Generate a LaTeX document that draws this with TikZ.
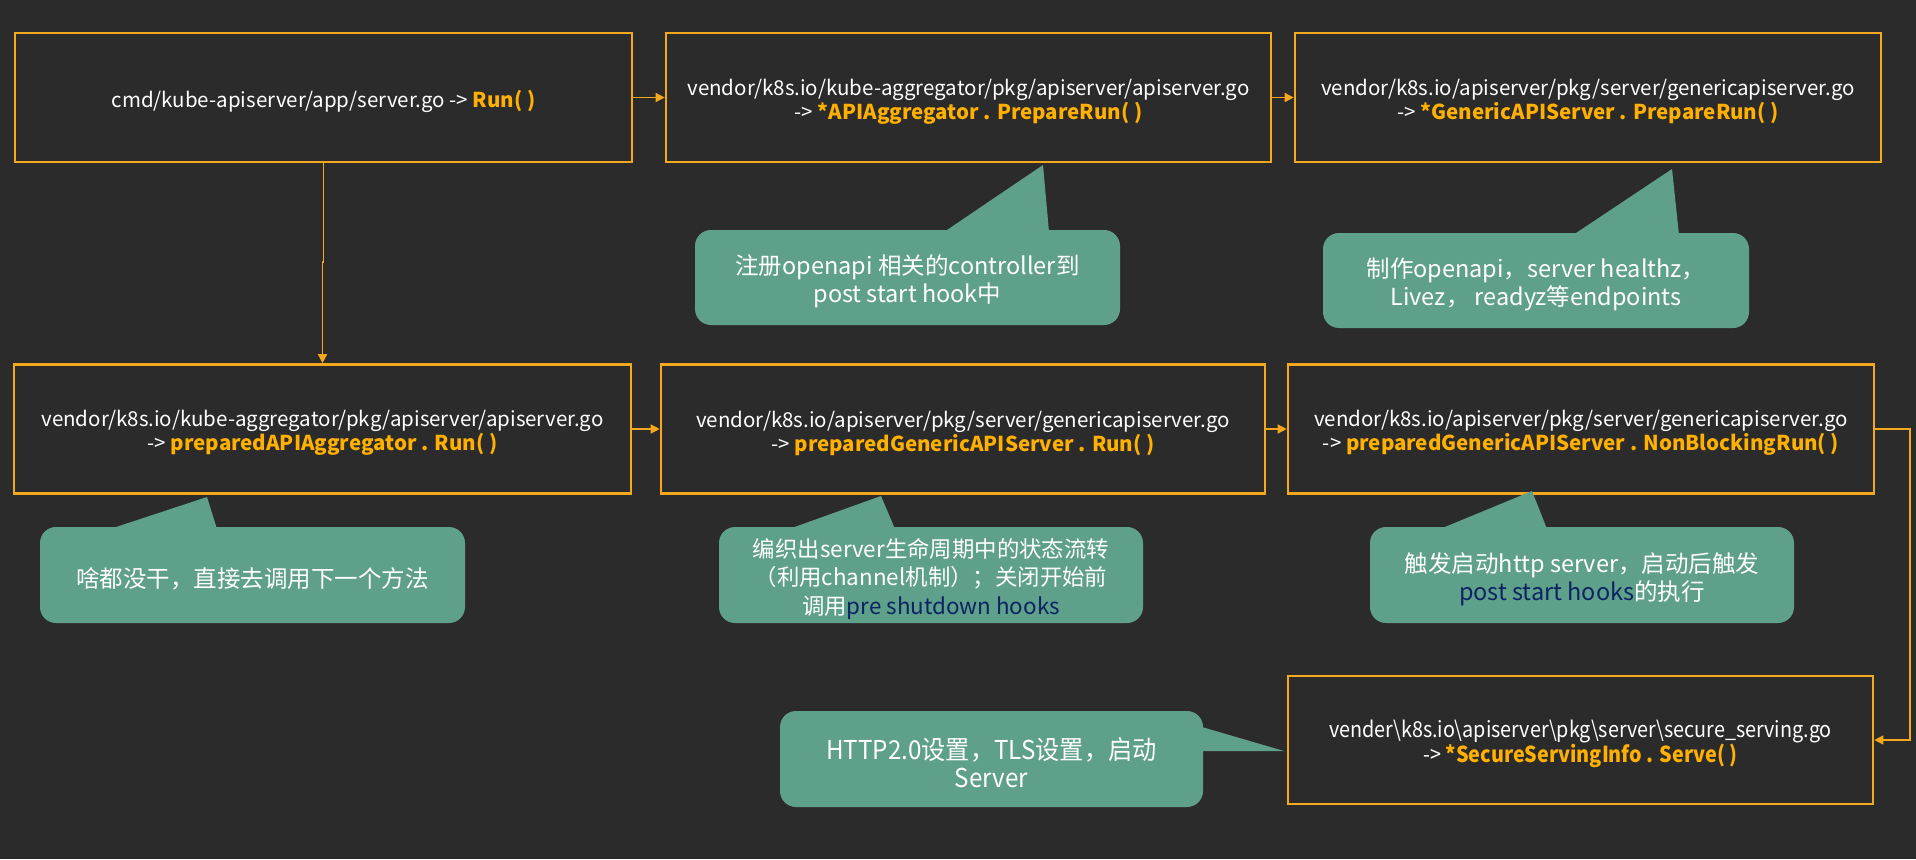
\documentclass[tikz,border=0pt]{standalone}
\usepackage{fontspec}
\setmainfont{Noto Sans CJK SC}
\newfontfamily\condfont[FakeStretch=0.9]{Noto Sans CJK SC}
\newfontfamily\condfontb[FakeStretch=0.93]{Noto Sans CJK SC}
\usetikzlibrary{arrows.meta,calc}
\definecolor{bgc}{HTML}{2C2B2C}
\definecolor{boxorange}{HTML}{F4A81D}
\definecolor{fnyellow}{HTML}{FFB000}
\definecolor{bubteal}{HTML}{5FA08A}
\definecolor{dblue}{HTML}{0A2463}
\newcommand\fnc[1]{{\bfseries\color{fnyellow}#1}}
\begin{document}
\begin{tikzpicture}[x=1pt,y=-1pt,
  box/.style={draw=boxorange, line width=2.6pt, inner sep=0pt},
  btext/.style={align=center, text=white, inner sep=0pt, yshift=-4pt,
    font=\fontsize{20.5}{24}\selectfont},
  bubble/.style={fill=bubteal, rounded corners=16pt, inner sep=0pt},
  ctext/.style={align=center, text=white, inner sep=0pt, yshift=-4pt,
    font=\fontsize{23.5}{28.3}\selectfont},
  conn/.style={draw=boxorange, line width=1.4pt, -{Triangle[length=9pt,width=9pt]}},
  tail/.style={fill=bubteal}]
\fill[bgc] (0,0) rectangle (1916,859);
% boxes
\node[box, minimum width=617, minimum height=129,
  label={[btext]center:{cmd/kube-apiserver/app/server.go -> \fnc{Run( )}}}] (B1) at (323.5,97.5) {};
\node[box, minimum width=605, minimum height=129,
  label={[btext]center:{vendor/k8s.io/kube-aggregator/pkg/apiserver/apiserver.go\\-> \fnc{*APIAggregator . PrepareRun( )}}}] (B2) at (968.5,97.5) {};
\node[box, minimum width=586, minimum height=129,
  label={[btext]center:{vendor/k8s.io/apiserver/pkg/server/genericapiserver.go\\-> \fnc{*GenericAPIServer . PrepareRun( )}}}] (B3) at (1588,97.5) {};
\node[box, minimum width=617, minimum height=129,
  label={[btext]center:{vendor/k8s.io/kube-aggregator/pkg/apiserver/apiserver.go\\-> \fnc{preparedAPIAggregator . Run( )}}}] (B4) at (322.5,429) {};
\node[box, minimum width=604, minimum height=129,
  label={[btext]center:{vendor/k8s.io/apiserver/pkg/server/genericapiserver.go\\-> \fnc{preparedGenericAPIServer . Run( )}}}] (B5) at (963,429) {};
\node[box, minimum width=586, minimum height=129,
  label={[btext]center:{vendor/k8s.io/apiserver/pkg/server/genericapiserver.go\\-> \fnc{preparedGenericAPIServer . NonBlockingRun( )}}}] (B6) at (1581,429) {};
\node[box, minimum width=585, minimum height=128,
  label={[btext, font=\condfont\fontsize{22}{25}\selectfont]center:{vender\textbackslash k8s.io\textbackslash apiserver\textbackslash pkg\textbackslash server\textbackslash secure\_serving.go\\-> \fnc{*SecureServingInfo . Serve( )}}}] (B7) at (1580.5,740) {};
% connectors
\coordinate (M) at (0,262);
\coordinate (R) at (1910,0);
\draw[conn] (B1) -- (B2);
\draw[conn] (B2) -- (B3);
\draw[conn] (B1.south) -- (B1.south |- M) -- (B4.north |- M) -- (B4.north);
\draw[conn] (B4) -- (B5);
\draw[conn] (B5) -- (B6);
\draw[conn] (B6.east) -- (B6.east -| R) |- (B7.east);
% bubbles
\fill[tail] (944,232) -- (1043,165) -- (1049,232) -- cycle;
\node[bubble, minimum width=425, minimum height=95,
  label={[ctext]center:{注册openapi 相关的controller到\\post start hook中}}] (C1) at (907.5,277.5) {};
\fill[tail] (1573,235) -- (1672,169) -- (1679,235) -- cycle;
\node[bubble, minimum width=426, minimum height=95,
  label={[ctext]center:{制作openapi，server healthz，\\ Livez， readyz等endpoints}}] (C2) at (1536,280.5) {};
\fill[tail] (110,529) -- (207,497) -- (217,529) -- cycle;
\node[bubble, minimum width=425, minimum height=96,
  label={[ctext]center:{啥都没干，直接去调用下一个方法}}] (C3) at (252.5,575) {};
\fill[tail] (789,529) -- (881,496) -- (895,529) -- cycle;
\node[bubble, minimum width=424, minimum height=96,
  label={[ctext, font=\fontsize{22.4}{28.3}\selectfont]center:{编织出server生命周期中的状态流转\\（利用channel机制）；关闭开始前\\调用\textcolor{dblue}{pre shutdown hooks}}}] (C4) at (931,575) {};
\fill[tail] (1440,529) -- (1532,491) -- (1547,529) -- cycle;
\node[bubble, minimum width=424, minimum height=96,
  label={[ctext]center:{触发启动http server，启动后触发\\\textcolor{dblue}{post start hooks}的执行}}] (C5) at (1582,575) {};
\fill[tail] (1195,725) -- (1284,751) -- (1195,751) -- cycle;
\node[bubble, minimum width=423, minimum height=96,
  label={[ctext, font=\condfontb\fontsize{26}{28.3}\selectfont]center:{HTTP2.0设置，TLS设置，启动\\Server}}] (C6) at (991.5,759) {};
\end{tikzpicture}
\end{document}
